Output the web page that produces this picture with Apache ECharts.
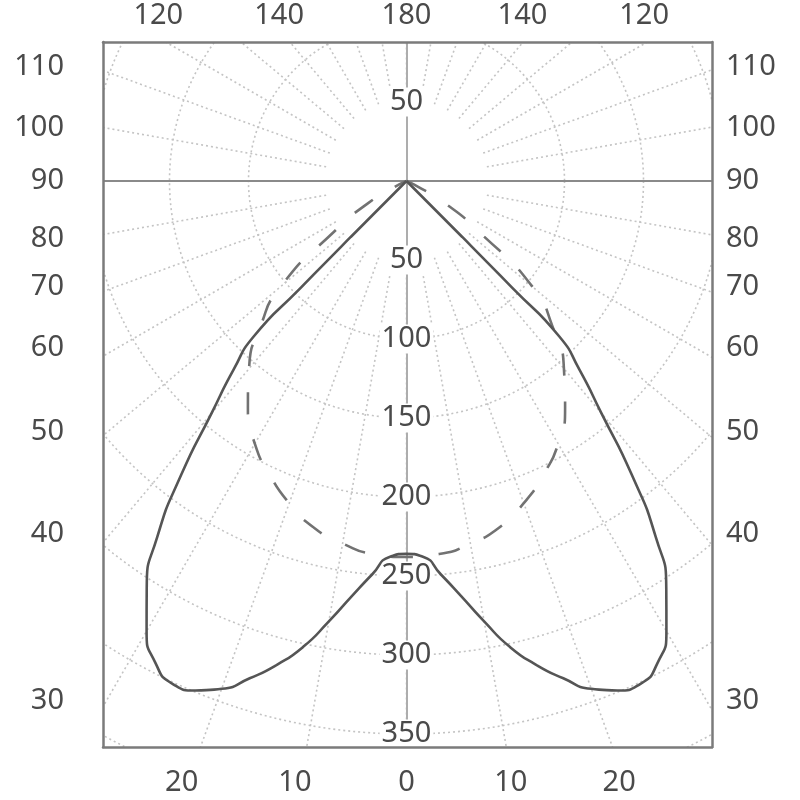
<!DOCTYPE html>
<html>
<head>
<meta charset="utf-8">
<script src="https://cdn.jsdelivr.net/npm/echarts@6/dist/echarts.min.js"></script>
<style>
html,body{margin:0;padding:0;background:#fff;}
#chart{width:800px;height:800px;}
</style>
</head>
<body>
<div id="chart"></div>
<script>
// ---------------- DATA ----------------
// Solid curve: C0 - C180 plane, luminous intensity (cd/klm) vs gamma (deg from nadir)
const gammaSolid     = [0,   2.5, 5,   7.5, 10,  12.5, 15,  17.5, 20,  22.5, 25,  27.5, 30,  32.5, 35,  37.5, 40,  42.5, 44.5, 44.7, 44.9, 45];
const intensitySolid = [236, 238, 250, 265, 283, 302,  317, 330,  342, 349,  351, 344,  329, 306,  275, 234,  192, 162,  138,  95,   50,   0];
// Dashed curve: C90 - C270 plane
const gammaDashed     = [0,   5,   10,  15,  20,  25,  30,  35,  40,  45,  50,  55, 60, 65, 70];
const intensityDashed = [238, 237, 233, 227, 217, 205, 192, 175, 155, 131, 104, 56, 28, 6,  0];

// Radial (intensity) tick labels along the vertical axis (up positive)
const radiusTickValues = [50, -50, -100, -150, -200, -250, -300, -350];
// Angle labels on the frame (positions in intensity units along the frame edge)
const sideTickLabels  = ['110', '100', '90', '80', '70', '60', '50', '40', '30'];
const sideTickValues  = [72.2, 33.5, 0, -36.4, -67.1, -105.7, -158.9, -223.4, -329.1];
const bottomTickLabels = ['20', '10', '0', '10', '20'];
const bottomTickValues = [-142.3, -70.6, 0, 66.0, 134.6];
const topTickLabels    = ['120', '140', '180', '140', '120'];
const topTickValues    = [-157.1, -80.6, 0, 73.4, 150.4];

// ---------------- LAYOUT ----------------
const CX = 406.5, CY = 181;      // pole of the diagram (px)
const S = 1.58;                  // px per cd/klm
const BOX = {left: 103, top: 42, right: 712, bottom: 747};
const xMin = (BOX.left - CX) / S, xMax = (BOX.right - CX) / S;
const yMin = -(BOX.bottom - CY) / S, yMax = (CY - BOX.top) / S;

const FONT = 'Noto Sans';
const txt = {fontFamily: FONT, fontSize: 29, color: '#4a4a4a'};
const boxLine = {show: true, onZero: false, lineStyle: {color: '#7b7b7b', width: 2.5}};
const GRID_COLOR = '#c4c4c4';
const gridDot = {color: GRID_COLOR, width: 1.6, type: [2, 3]};

function lookup(vals, labels) {
  return function (v) {
    let best = 0;
    for (let i = 1; i < vals.length; i++) {
      if (Math.abs(vals[i] - v) < Math.abs(vals[best] - v)) best = i;
    }
    return labels[best];
  };
}

// both half-planes drawn symmetric: right side at 360-gamma, left side at gamma
function mirror(gammas, values) {
  const pts = [];
  for (let i = gammas.length - 1; i >= 0; i--) pts.push([values[i], 360 - gammas[i]]);
  for (let i = 1; i < gammas.length; i++) pts.push([values[i], gammas[i]]);
  return pts;
}

const hiddenAxisParts = {
  axisLine: {show: false}, axisTick: {show: false},
  axisLabel: {show: false}, splitLine: {show: false}, splitArea: {show: false}
};

const chart = echarts.init(document.getElementById('chart'), null, {renderer: 'canvas'});

const option = {
  animation: false,
  backgroundColor: '#ffffff',
  textStyle: {fontFamily: FONT},
  grid: {
    left: BOX.left, top: BOX.top,
    width: BOX.right - BOX.left, height: BOX.bottom - BOX.top,
    containLabel: false, outerBoundsMode: 'none'
  },
  xAxis: [
    {
      type: 'value', position: 'bottom', min: xMin, max: xMax, z: 4,
      axisLine: boxLine, axisTick: {show: false}, splitLine: {show: false},
      axisLabel: Object.assign({}, txt, {
        margin: 21, customValues: bottomTickValues,
        formatter: lookup(bottomTickValues, bottomTickLabels)
      })
    },
    {
      type: 'value', position: 'top', min: xMin, max: xMax, z: 4,
      axisLine: boxLine, axisTick: {show: false}, splitLine: {show: false},
      axisLabel: Object.assign({}, txt, {
        margin: 12, customValues: topTickValues,
        formatter: lookup(topTickValues, topTickLabels)
      })
    },
    {
      // horizontal 90° line through the pole
      type: 'value', position: 'top', offset: -(CY - BOX.top), min: xMin, max: xMax, z: 1,
      axisLine: {show: true, onZero: false, lineStyle: {color: '#8a8a8a', width: 2}},
      axisTick: {show: false}, axisLabel: {show: false}, splitLine: {show: false}
    }
  ],
  yAxis: [
    {
      type: 'value', position: 'left', min: yMin, max: yMax, z: 4,
      axisLine: boxLine, axisTick: {show: false}, splitLine: {show: false},
      axisLabel: Object.assign({}, txt, {
        margin: 39, customValues: sideTickValues,
        formatter: lookup(sideTickValues, sideTickLabels)
      })
    },
    {
      type: 'value', position: 'right', min: yMin, max: yMax, z: 4,
      axisLine: boxLine, axisTick: {show: false}, splitLine: {show: false},
      axisLabel: Object.assign({}, txt, {
        margin: 14, customValues: sideTickValues,
        formatter: lookup(sideTickValues, sideTickLabels)
      })
    },
    {
      // vertical 0°-180° line with the intensity scale
      type: 'value', position: 'left', offset: -(CX - BOX.left), min: yMin, max: yMax, z: 1,
      axisLine: {show: true, onZero: false, lineStyle: {color: '#adadad', width: 2}},
      axisTick: {show: false}, splitLine: {show: false},
      axisLabel: Object.assign({}, txt, {
        margin: 0, align: 'center', verticalAlign: 'middle',
        customValues: radiusTickValues,
        formatter: function (v) { return String(Math.abs(Math.round(v))); },
        backgroundColor: '#ffffff', padding: [0, 2]
      })
    }
  ],
  polar: [
    {center: [CX, CY], radius: [50 * S, 420 * S]},   // grid (radial lines start at 50)
    {center: [CX, CY], radius: [0, 400 * S]}         // data
  ],
  angleAxis: [
    {
      polarIndex: 0, type: 'value', min: 0, max: 360, interval: 10,
      startAngle: 270, clockwise: true, z: 0,
      axisLine: {show: false}, axisTick: {show: false}, axisLabel: {show: false},
      splitLine: {show: true, lineStyle: gridDot}
    },
    Object.assign({polarIndex: 1, type: 'value', min: 0, max: 360, startAngle: 270, clockwise: true}, hiddenAxisParts)
  ],
  radiusAxis: [
    {
      polarIndex: 0, type: 'value', min: 50, max: 420, interval: 50, z: 0,
      axisLine: {show: false}, axisTick: {show: false}, axisLabel: {show: false},
      splitLine: {show: true, lineStyle: {
        color: ['rgba(0,0,0,0)', GRID_COLOR, GRID_COLOR, GRID_COLOR, GRID_COLOR, GRID_COLOR, GRID_COLOR, GRID_COLOR, GRID_COLOR, GRID_COLOR],
        width: 1.6, type: [2, 3]
      }}
    },
    Object.assign({polarIndex: 1, type: 'value', min: 0, max: 400}, hiddenAxisParts)
  ],
  graphic: {
    z: 3,
    elements: [
      {type: 'rect', z: 3, silent: true, shape: {x: 0, y: 0, width: 800, height: BOX.top}, style: {fill: '#fff'}},
      {type: 'rect', z: 3, silent: true, shape: {x: 0, y: BOX.bottom, width: 800, height: 800 - BOX.bottom}, style: {fill: '#fff'}},
      {type: 'rect', z: 3, silent: true, shape: {x: 0, y: 0, width: BOX.left, height: 800}, style: {fill: '#fff'}},
      {type: 'rect', z: 3, silent: true, shape: {x: BOX.right, y: 0, width: 800 - BOX.right, height: 800}, style: {fill: '#fff'}}
    ]
  },
  series: [
    {
      name: 'C90-C270', type: 'line', coordinateSystem: 'polar', polarIndex: 1,
      data: mirror(gammaDashed, intensityDashed),
      showSymbol: false, symbol: 'none', smooth: 0.6, z: 2,
      lineStyle: {color: '#727272', width: 2.6, type: [22, 26]}
    },
    {
      name: 'C0-C180', type: 'line', coordinateSystem: 'polar', polarIndex: 1,
      data: mirror(gammaSolid, intensitySolid),
      showSymbol: false, symbol: 'none', smooth: 0.6, z: 2,
      lineStyle: {color: '#555555', width: 2.6}
    }
  ]
};

chart.setOption(option);
</script>
</body>
</html>
